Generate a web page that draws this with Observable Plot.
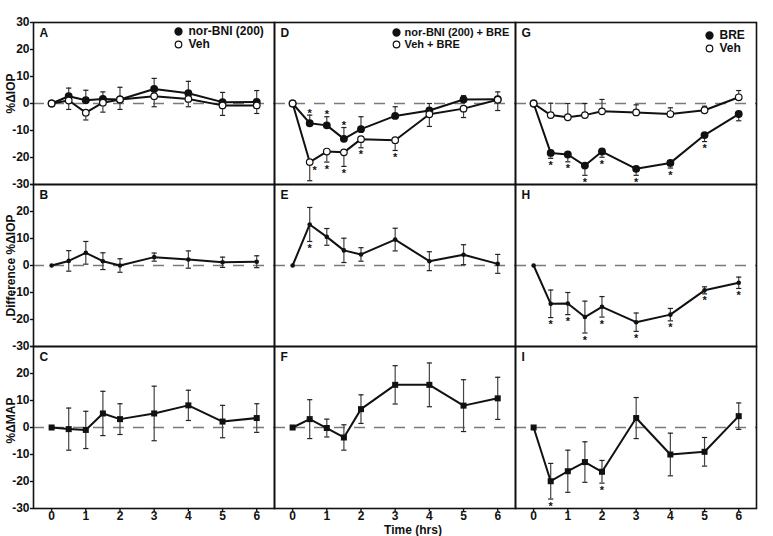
<!DOCTYPE html>
<html>
<head>
<meta charset="utf-8">
<script src="https://cdn.jsdelivr.net/npm/d3@7"></script>
<script src="https://cdn.jsdelivr.net/npm/@observablehq/plot@0.6"></script>
<style>
  html, body { margin: 0; padding: 0; background: #fff; }
  #chart { width: 773px; height: 536px; }
</style>
</head>
<body>
<div id="chart"></div>
<script>
// ---------- data ----------
const times = [0, 0.5, 1, 1.5, 2, 3, 4, 5, 6];
const xTicks = [0, 1, 2, 3, 4, 5, 6];
const yTicks = [30, 20, 10, 0, -10, -20, -30];
const panelLetters = ["A", "D", "G", "B", "E", "H", "C", "F", "I"];
const rowLabels = ["%ΔIOP", "Difference %ΔIOP", "%ΔMAP"];
const xLabel = "Time (hrs)";

// Panel A: %ΔIOP
const A_norBNI = [0, 2.7, 1.2, 1.7, 1.5, 5.4, 3.8, 0.5, 0.6];
const A_norBNI_sem = [0, 3.0, 3.7, 2.6, 4.5, 3.9, 4.4, 3.6, 4.2];
const A_veh = [0, 1.1, -3.4, 0.3, 1.5, 2.7, 1.7, -0.7, -0.7];
const A_veh_sem = [0, 3.3, 2.7, 3.5, 3.7, 3.9, 2.9, 3.7, 3.0];
const A_legend = ["nor-BNI (200)", "Veh"];

// Panel D: %ΔIOP
const D_norBNI_BRE = [0, -7.3, -8.1, -13.1, -9.5, -4.6, -2.6, 1.5, 1.6];
const D_norBNI_BRE_sem = [0, 3.0, 3.2, 4.2, 4.6, 3.4, 2.6, 1.4, 2.7];
const D_veh_BRE = [0, -21.7, -17.8, -18.1, -13.2, -13.6, -4.0, -1.9, 1.4];
const D_veh_BRE_sem = [0, 6.9, 3.9, 5.2, 3.2, 3.8, 4.5, 3.3, 4.0];
const D_legend = ["nor-BNI (200) + BRE", "Veh + BRE"];
const D_norBNI_BRE_stars = [0.5, 1, 1.5];
const D_veh_BRE_stars = [1, 1.5, 2, 3];
const D_veh_BRE_sideStars = [0.5];

// Panel G: %ΔIOP
const G_BRE = [0, -18.3, -18.9, -23.0, -17.8, -24.2, -22.0, -11.7, -3.9];
const G_BRE_sem = [0, 2.0, 2.7, 3.6, 2.1, 2.4, 1.9, 2.4, 2.5];
const G_veh = [0, -4.3, -5.1, -4.3, -2.9, -3.3, -3.9, -2.5, 2.3];
const G_veh_sem = [0, 4.4, 5.1, 4.3, 4.4, 2.8, 2.3, 1.5, 2.5];
const G_legend = ["BRE", "Veh"];
const G_BRE_stars = [0.5, 1, 1.5, 2, 3, 4, 5];

// Row 2: difference %ΔIOP
const B_diff = [0, 1.7, 4.7, 1.6, 0, 3.1, 2.2, 1.2, 1.4];
const B_diff_sem = [0, 3.8, 4.2, 3.1, 2.5, 1.5, 3.2, 1.9, 2.2];
const E_diff = [0, 15.2, 10.6, 5.6, 4.1, 9.6, 1.6, 4.0, 0.6];
const E_diff_sem = [0, 6.3, 3.1, 4.5, 2.5, 4.2, 3.5, 3.7, 3.5];
const E_stars = [0.5];
const H_diff = [0, -14.2, -14.1, -19.1, -15.3, -21.0, -18.2, -9.2, -6.4];
const H_diff_sem = [0, 5.1, 4.1, 5.9, 3.8, 3.4, 2.3, 1.3, 2.1];
const H_stars = [0.5, 1, 1.5, 2, 3, 4, 5, 6];

// Row 3: %ΔMAP
const C_map = [0, -0.6, -0.9, 5.2, 3.1, 5.2, 8.2, 2.2, 3.5];
const C_map_sem = [0, 7.8, 6.9, 8.2, 5.7, 10.1, 5.6, 6.0, 5.3];
const F_map = [0, 3.1, -0.2, -3.7, 6.8, 15.8, 15.8, 8.1, 10.8];
const F_map_sem = [0, 7.2, 3.3, 4.7, 5.3, 7.1, 8.1, 9.6, 7.8];
const I_map = [0, -19.9, -16.2, -12.8, -16.4, 3.5, -10.0, -9.0, 4.2];
const I_map_sem = [0, 6.6, 7.8, 7.5, 4.2, 7.6, 7.9, 5.3, 4.9];
const I_stars = [0.5, 2];

// ---------- build tables ----------
function series(fx, fy, name, kind, vals, sem, dir) {
  return times.map((t, i) => ({
    fx, fy, name, kind, t, v: vals[i],
    lo: dir === "up" ? vals[i] : vals[i] - sem[i],
    hi: dir === "down" ? vals[i] : vals[i] + sem[i],
    dir
  }));
}
const all = [
  ...series(0, 0, "A1", "filled", A_norBNI, A_norBNI_sem, "up"),
  ...series(0, 0, "A2", "open", A_veh, A_veh_sem, "down"),
  ...series(1, 0, "D1", "filled", D_norBNI_BRE, D_norBNI_BRE_sem, "up"),
  ...series(1, 0, "D2", "open", D_veh_BRE, D_veh_BRE_sem, "down"),
  ...series(2, 0, "G1", "filled", G_BRE, G_BRE_sem, "down"),
  ...series(2, 0, "G2", "open", G_veh, G_veh_sem, "up"),
  ...series(0, 1, "B", "diff", B_diff, B_diff_sem, "both"),
  ...series(1, 1, "E", "diff", E_diff, E_diff_sem, "both"),
  ...series(2, 1, "H", "diff", H_diff, H_diff_sem, "both"),
  ...series(0, 2, "C", "map", C_map, C_map_sem, "both"),
  ...series(1, 2, "F", "map", F_map, F_map_sem, "both"),
  ...series(2, 2, "I", "map", I_map, I_map_sem, "both")
];
const bars = all.filter(d => d.hi > d.lo);
const caps = bars.flatMap(d => {
  const out = [];
  if (d.dir !== "down") out.push({fx: d.fx, fy: d.fy, t: d.t, y: d.hi});
  if (d.dir !== "up") out.push({fx: d.fx, fy: d.fy, t: d.t, y: d.lo});
  return out;
});
function find(name, t) { return all.find(d => d.name === name && d.t === t); }
const starsBelow = [
  ...D_veh_BRE_stars.map(t => find("D2", t)),
  ...G_BRE_stars.map(t => find("G1", t)),
  ...E_stars.map(t => find("E", t)),
  ...H_stars.map(t => find("H", t)),
  ...I_stars.map(t => find("I", t))
];
const starsAbove = D_norBNI_BRE_stars.map(t => find("D1", t));
const starsSide = D_veh_BRE_sideStars.map(t => find("D2", t));

const letters = panelLetters.map((l, i) => ({fx: i % 3, fy: Math.floor(i / 3), l}));
const yLabelData = [0, 1, 2].flatMap(r => yTicks.filter(v => r === 0 || v !== 30).map(v => ({fx: 0, fy: r, v})));
const capSymbol = {draw(ctx) { ctx.moveTo(-2.6, 0); ctx.lineTo(2.6, 0); }};

function legend(fx, labels, dxDot, dxText, dy1, dy2, fs) {
  const d1 = [{fx, fy: 0, s: labels[0]}], d2 = [{fx, fy: 0, s: labels[1]}];
  return [
    Plot.dot(d1, {fx: "fx", fy: "fy", frameAnchor: "top-right", dx: dxDot, dy: dy1, r: 3.4, fill: "#111", stroke: "#111"}),
    Plot.dot(d2, {fx: "fx", fy: "fy", frameAnchor: "top-right", dx: dxDot, dy: dy2, r: 3.3, fill: "#fff", stroke: "#111", strokeWidth: 1.2}),
    Plot.text(d1, {fx: "fx", fy: "fy", text: "s", frameAnchor: "top-right", dx: dxText, dy: dy1, textAnchor: "start", lineAnchor: "middle", fontSize: fs}),
    Plot.text(d2, {fx: "fx", fy: "fy", text: "s", frameAnchor: "top-right", dx: dxText, dy: dy2, textAnchor: "start", lineAnchor: "middle", fontSize: fs})
  ];
}

const fxfy = {fx: "fx", fy: "fy"};
const chart = Plot.plot({
  width: 773,
  height: 536,
  marginLeft: 32,
  marginRight: 16,
  marginTop: 22,
  marginBottom: 28,
  style: {fontFamily: "'Liberation Sans', Arial, Helvetica, sans-serif", fontSize: "12px", fontWeight: "bold", color: "#111", background: "#fff"},
  fx: {domain: [0, 1, 2], padding: 0, axis: null},
  fy: {domain: [0, 1, 2], padding: 0, axis: null},
  x: {domain: [-0.53, 6.52], label: null},
  y: {domain: [-30, 30], label: null},
  marks: [
    Plot.ruleY([0], {stroke: "#7a7a7a", strokeWidth: 1.6, strokeDasharray: "11,9"}),
    Plot.ruleX(bars, {...fxfy, x: "t", y1: "lo", y2: "hi", stroke: "#444", strokeWidth: 1.2}),
    Plot.dot(caps, {...fxfy, x: "t", y: "y", symbol: capSymbol, r: 3, fill: "none", stroke: "#222", strokeWidth: 1.2}),
    Plot.line(all, {...fxfy, x: "t", y: "v", z: "name", stroke: "#111", strokeWidth: 2}),
    Plot.dot(all.filter(d => d.kind === "filled"), {...fxfy, x: "t", y: "v", r: 3.2, fill: "#111", stroke: "#111"}),
    Plot.dot(all.filter(d => d.kind === "open"), {...fxfy, x: "t", y: "v", r: 3.3, fill: "#fff", stroke: "#111", strokeWidth: 1.2}),
    Plot.dot(all.filter(d => d.kind === "diff"), {...fxfy, x: "t", y: "v", r: 2.3, fill: "#111"}),
    Plot.dot(all.filter(d => d.kind === "map"), {...fxfy, x: "t", y: "v", symbol: "square", r: 3.4, fill: "#111"}),
    Plot.text(starsBelow, {...fxfy, x: "t", y: "lo", text: () => "*", dy: 7, fontSize: 11, lineAnchor: "middle", fill: "#111"}),
    Plot.text(starsAbove, {...fxfy, x: "t", y: "hi", text: () => "*", dy: -2, fontSize: 11, lineAnchor: "middle", fill: "#111"}),
    Plot.text(starsSide, {...fxfy, x: "t", y: "v", text: () => "*", dx: 5, dy: 8, fontSize: 11, lineAnchor: "middle", fill: "#111"}),
    Plot.frame({stroke: "#111", strokeWidth: 1.6}),
    Plot.text(letters, {...fxfy, text: "l", frameAnchor: "top-left", dx: 6, dy: 11, textAnchor: "start", lineAnchor: "middle"}),
    ...legend(0, A_legend, -96, -86, 9, 22, 12),
    ...legend(1, D_legend, -119, -111, 10, 22, 11),
    ...legend(2, G_legend, -47, -37, 13, 26, 12),
    Plot.axisY({ticks: yTicks, tickSize: 3, tickFormat: () => "", label: null, stroke: "#111", strokeWidth: 1.4}),
    Plot.text(yLabelData, {...fxfy, y: "v", text: d => String(d.v), frameAnchor: "left", dx: -4, textAnchor: "end", lineAnchor: "middle"}),
    Plot.axisX({ticks: xTicks, tickSize: 3, tickPadding: 0, tickFormat: d => String(d), label: null, stroke: "#111", strokeWidth: 1.4}),
    Plot.text([{fx: 0, fy: 0, s: rowLabels[0]}], {...fxfy, text: "s", frameAnchor: "left", textAnchor: "middle", rotate: -90, dx: -22, dy: -10}),
    Plot.text([{fx: 0, fy: 1, s: rowLabels[1]}], {...fxfy, text: "s", frameAnchor: "left", textAnchor: "middle", rotate: -90, dx: -22, dy: 0}),
    Plot.text([{fx: 0, fy: 2, s: rowLabels[2]}], {...fxfy, text: "s", frameAnchor: "left", textAnchor: "middle", rotate: -90, dx: -22, dy: -7}),
    Plot.text([{fx: 1, fy: 2, s: xLabel}], {...fxfy, text: "s", frameAnchor: "bottom", textAnchor: "middle", dx: 18, dy: 22, lineAnchor: "middle"})
  ]
});
document.getElementById("chart").appendChild(chart);
</script>
</body>
</html>
